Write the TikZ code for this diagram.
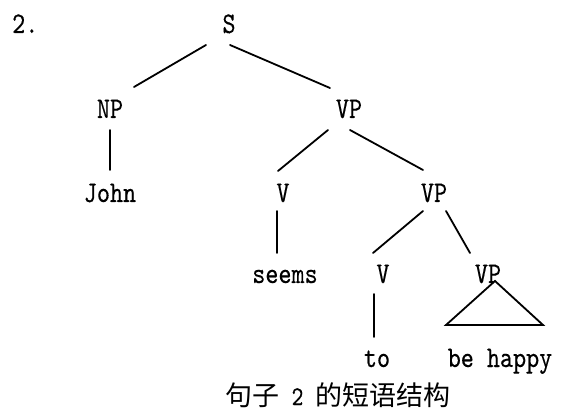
\documentclass[tikz,border=0pt]{standalone}
\usepackage{fontspec}
\newfontfamily\cjk{Noto Sans CJK SC}
\newfontfamily\lmm{lmmono10-regular}[Extension=.otf,FakeStretch=0.83,FakeBold=0.3]
\begin{document}
\begin{tikzpicture}[x=1pt,y=1pt,
  lbl/.style={anchor=base,inner sep=0pt,font=\fontsize{30}{32}\selectfont\lmm},
  edge/.style={line width=1.8pt,line cap=round}]
\useasboundingbox (0,0) rectangle (561,412);
\node[lbl,anchor=base west] (num) at (12,379) {2.};
\node[lbl] (S) at (229,379) {S};
\node[lbl] (NP) at (110,294) {NP};
\node[lbl] (VP1) at (349,294) {VP};
\node[lbl] (John) at (110,210) {John};
\node[lbl] (V1) at (283,210) {V};
\node[lbl] (VP2) at (434,210) {VP};
\node[lbl] (seems) at (285,129) {seems};
\node[lbl] (V2) at (383,129) {V};
\node[lbl] (VP3) at (488,129) {VP};
\node[lbl] (to) at (377,45) {to};
\node[lbl] (bh) at (500,45) {be happy};
\node[lbl,font=\fontsize{27}{30}\selectfont\lmm] (cap) at (338,7) {{\cjk 句子}\ 2\ {\cjk 的短语结构}};
\draw[edge] ([shift={(-23,-12)}]S.base) -- ([shift={(24,31)}]NP.base);
\draw[edge] ([shift={(1,-12)}]S.base) -- ([shift={(-19,30)}]VP1.base);
\draw[edge] ([shift={(0,-12)}]NP.base) -- ([shift={(0,32)}]John.base);
\draw[edge] ([shift={(-21,-12)}]VP1.base) -- ([shift={(-5,31)}]V1.base);
\draw[edge] ([shift={(1,-12)}]VP1.base) -- ([shift={(-11,32)}]VP2.base);
\draw[edge] ([shift={(-6,-9)}]V1.base) -- ([shift={(-8,30)}]seems.base);
\draw[edge] ([shift={(-11,-9)}]VP2.base) -- ([shift={(-10,30)}]V2.base);
\draw[edge] ([shift={(12,-9)}]VP2.base) -- ([shift={(-18,30)}]VP3.base);
\draw[edge] ([shift={(-9,-11)}]V2.base) -- ([shift={(-3,30)}]to.base);
\draw[edge,line join=miter] ([shift={(7,2)}]VP3.base) -- ([shift={(-54,42)}]bh.base) -- ([shift={(43,42)}]bh.base) -- cycle;
\end{tikzpicture}
\end{document}
